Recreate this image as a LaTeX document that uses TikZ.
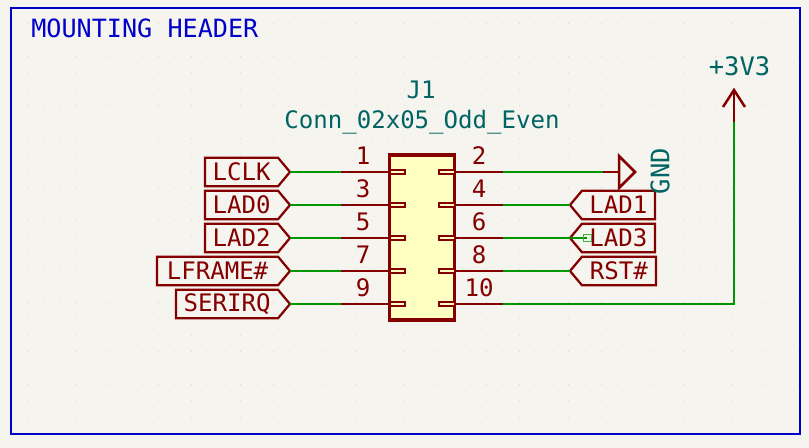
\documentclass[tikz,border=0pt]{standalone}
\usepackage{fontspec}
\setmonofont{DejaVu Sans Mono}
\usepackage{xcolor}
\usetikzlibrary{shapes.symbols, positioning, calc}
\definecolor{paper}{HTML}{F5F4EF}
\definecolor{symred}{HTML}{840000}
\definecolor{wiregreen}{HTML}{009600}
\definecolor{framblue}{HTML}{0000C8}
\definecolor{powteal}{HTML}{006464}
\definecolor{bodyfill}{HTML}{FFFFC2}
\definecolor{griddot}{HTML}{D4D4CD}
\tikzset{
    wire/.style={wiregreen,line width=0.5mm},
    pinline/.style={symred,line width=0.5mm},
    pinstub/.style={draw=symred,line width=0.45mm,fill=bodyfill},
    kitext/.style={font=\ttfamily\fontsize{13.7}{13.7}\selectfont,inner sep=0pt},
    powtext/.style={kitext,powteal,font=\ttfamily\fontsize{14.5}{14.5}\selectfont},
    pinnum/.style={kitext,symred,above=1.4mm},
    outlbl/.style={kitext,symred,draw=symred,line width=0.45mm,shape=signal,signal pointer angle=100,
      minimum height=5.7mm,inner xsep=0.6mm,inner ysep=0pt,outer sep=0pt},
    tolbl/.style={outlbl,signal to=east,anchor=east},
    fromlbl/.style={outlbl,signal to=west,anchor=west}
}
\begin{document}
\begin{tikzpicture}[x=0.2mm,y=-0.2mm]
    \fill[paper] (0,0) rectangle (809,448);
    \foreach \xg in {0,...,48}
      \foreach \yg in {0,...,26}
        \fill[griddot] ({11+16.4*\xg},{7.2+16.4*\yg}) circle (0.1mm);
    \draw[framblue,line width=0.55mm] (11,8) rectangle (800,434);
    \node[kitext,framblue,font=\ttfamily\fontsize{14.3}{14.3}\selectfont,anchor=west] (title) at (31,28) {MOUNTING HEADER};

    % connector body
    \node[draw=symred,fill=bodyfill,line width=0.65mm,minimum width=13mm,minimum height=33mm,inner sep=0pt] (j1) at (422,237.5) {};
    \node[kitext,powteal] (j1ref) at (421,90) {J1};
    \node[kitext,powteal] (j1val) at (422,122) {Conn\_02x05\_Odd\_Even};

    % pins, left and right
    \foreach \num/\yy in {1/172,3/205,5/238,7/271,9/304} {
      \draw[pinstub] (390,\yy-2) rectangle (405,\yy+2);
      \coordinate (pin\num) at (341,\yy);
      \draw[pinline] (pin\num) -- (390,\yy);
      \node[pinnum] (num\num) at (363,\yy) {\num};
    }
    \foreach \num/\yy in {2/172,4/205,6/238,8/271,10/304} {
      \draw[pinstub] (439,\yy-2) rectangle (455,\yy+2);
      \coordinate (pin\num) at (503,\yy);
      \draw[pinline] (455,\yy) -- (pin\num);
      \node[pinnum] (num\num) at (479,\yy) {\num};
    }

    % labels
    \node[tolbl,minimum width=17mm] (lclk) at (290,172) {LCLK};
    \node[tolbl,minimum width=17mm] (lad0) at (290,205) {LAD0};
    \node[tolbl,minimum width=17mm] (lad2) at (290,238) {LAD2};
    \node[tolbl,minimum width=26.6mm] (lframe) at (290,271) {LFRAME\#};
    \node[tolbl,minimum width=22.8mm] (serirq) at (290,304) {SERIRQ};
    \node[fromlbl,minimum width=17mm] (lad1) at (570,205) {LAD1};
    \node[fromlbl,minimum width=17mm] (lad3) at (570,238) {LAD3};
    \node[fromlbl,minimum width=17.2mm] (rst) at (570,271) {RST\#};

    % wires
    \draw[wire] (lclk.east) -- (pin1);
    \draw[wire] (lad0.east) -- (pin3);
    \draw[wire] (lad2.east) -- (pin5);
    \draw[wire] (lframe.east) -- (pin7);
    \draw[wire] (serirq.east) -- (pin9);
    \draw[wire] (pin4) -- (lad1.west);
    \draw[wire] (pin8) -- (rst.west);
    \coordinate (lad3end) at (587,238);
    \draw[wire] (pin6) -- (lad3end);
    \draw[wiregreen!75!white,line width=0.2mm] (583,234.5) rectangle (591,241.5);

    % gnd symbol
    \coordinate (gndwire) at (603,172);
    \coordinate (gndbase) at (619,172);
    \draw[wire] (pin2) -- (gndwire);
    \draw[pinline] (gndwire) -- (gndbase);
    \draw[symred,line width=0.5mm,line join=miter] (619,156) -- (635,172) -- (619,188) -- cycle;
    \node[powtext,rotate=90] (gnd) at (660,171) {GND};

    % +3V3 symbol
    \coordinate (pwrcorner) at (734,304);
    \coordinate (pwrbase) at (734,122);
    \coordinate (pwrtip) at (734,90);
    \draw[wire] (pin10) -- (pwrcorner) -- (pwrbase);
    \draw[pinline] (pwrbase) -- (pwrtip);
    \draw[pinline] (723,107) -- (pwrtip) -- (745,107);
    \node[powtext] (pwr) at (739.5,66) {+3V3};
\end{tikzpicture}
\end{document}
